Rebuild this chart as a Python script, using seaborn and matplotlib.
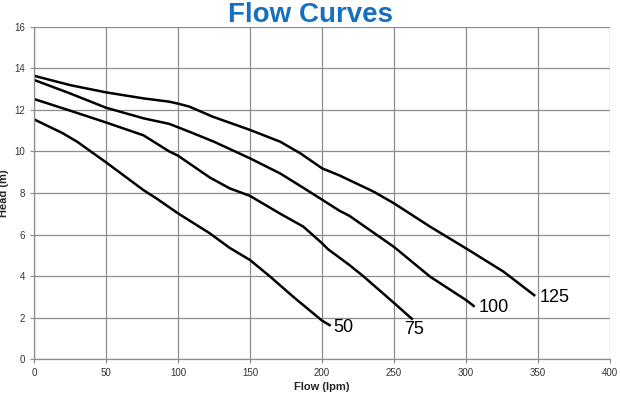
import matplotlib
matplotlib.use("Agg")
import matplotlib.pyplot as plt
import seaborn as sns
import pandas as pd

# ---- data ----
flow_50 = [0, 20, 30, 50, 76, 85, 100, 122, 136, 150, 164, 180, 200, 206]
head_50 = [11.55, 10.88, 10.47, 9.48, 8.14, 7.74, 7.02, 6.06, 5.35, 4.77, 3.97, 3.0, 1.85, 1.6]

flow_75 = [0, 25, 50, 76, 94, 100, 122, 136, 150, 171, 187, 200, 204, 219, 229, 250, 263]
head_75 = [12.53, 11.97, 11.4, 10.78, 10.0, 9.8, 8.75, 8.22, 7.86, 7.0, 6.38, 5.58, 5.3, 4.53, 3.97, 2.7, 1.9]

flow_100 = [0, 25, 50, 76, 94, 108, 125, 150, 171, 187, 200, 212, 219, 250, 275, 300, 306]
head_100 = [13.45, 12.8, 12.11, 11.6, 11.33, 10.95, 10.47, 9.67, 8.94, 8.25, 7.68, 7.15, 6.9, 5.4, 3.97, 2.84, 2.52]

flow_125 = [0, 25, 50, 76, 94, 101, 108, 124, 150, 171, 185, 200, 212, 236, 250, 275, 300, 326, 348]
head_125 = [13.65, 13.2, 12.85, 12.56, 12.4, 12.29, 12.16, 11.68, 11.04, 10.47, 9.91, 9.19, 8.85, 8.06, 7.5, 6.38, 5.33, 4.21, 3.04]

curve_names = ["50", "75", "100", "125"]
x_ticks = [0, 50, 100, 150, 200, 250, 300, 350, 400]
y_ticks = [0, 2, 4, 6, 8, 10, 12, 14, 16]

frames = []
for name, fx, fy in zip(curve_names, [flow_50, flow_75, flow_100, flow_125],
                        [head_50, head_75, head_100, head_125]):
    frames.append(pd.DataFrame({"flow": fx, "head": fy, "curve": name}))
df = pd.concat(frames, ignore_index=True)

sns.set_style("white")
plt.rcParams["font.family"] = ["Liberation Sans", "DejaVu Sans"]

fig = plt.figure(figsize=(6.2, 3.94), dpi=100)
ax = fig.add_axes([0.0548, 0.0888, 0.9292, 0.8427])

sns.lineplot(data=df, x="flow", y="head", hue="curve", palette=["black"] * 4,
             sort=False, legend=False, linewidth=1.8, ax=ax, estimator=None)
for ln in ax.get_lines():
    ln.set_solid_joinstyle("round")
    ln.set_solid_capstyle("butt")

# end labels
label_pos = {"50": (208, 1.5), "75": (257, 1.42),
             "100": (309, 2.5), "125": (351, 2.95)}
for name, (lx, ly) in label_pos.items():
    ax.text(lx, ly, name, fontsize=13, color="black", ha="left", va="center")

ax.set_xlim(0, 400)
ax.set_ylim(0, 16)
ax.set_xticks(x_ticks)
ax.set_yticks(y_ticks)
ax.grid(True, color="#8c8c8c", linewidth=0.9)
for side in ["top", "right"]:
    ax.spines[side].set_visible(False)
for side in ["left", "bottom"]:
    ax.spines[side].set_color("#8c8c8c")
    ax.spines[side].set_linewidth(0.9)
ax.tick_params(axis="both", which="major", labelsize=7, colors="#333333",
               length=3, width=0.8, direction="out", color="#8c8c8c",
               left=True, bottom=True)
ax.set_xlabel("Flow (lpm)", fontsize=8, fontweight="bold", labelpad=3)
ax.set_ylabel("Head (m)", fontsize=8, fontweight="bold", labelpad=4)

fig.text(0.5, 0.995, "Flow Curves", ha="center", va="top", fontsize=20,
         fontweight="bold", color="#1670c0")

fig.savefig("out.png", dpi=100)
